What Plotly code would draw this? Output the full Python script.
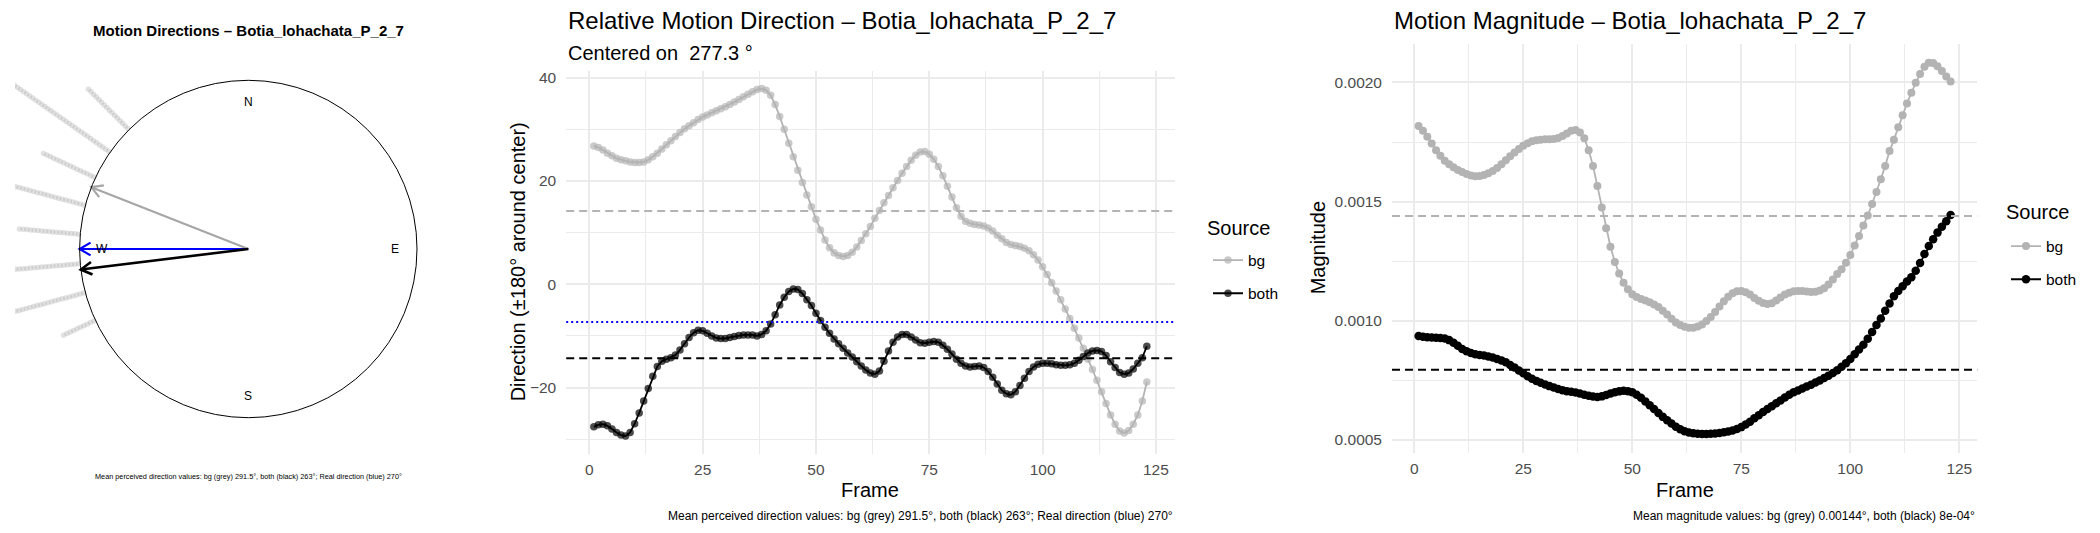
import numpy as np
import plotly.graph_objects as go

# canvas
W, H = 2100, 533

sample_name = "Botia_lohachata_P_2_7"
frames = list(range(1, 124))

# relative direction (deg around the centre)
bg_rel = [
    26.8, 26.5, 26.0, 25.4, 24.9, 24.4, 24.1, 23.9, 23.7, 23.6,
    23.6, 23.7, 24.1, 24.7, 25.4, 26.2, 27.0, 27.8, 28.6, 29.4,
    30.1, 30.7, 31.3, 31.9, 32.4, 32.8, 33.2, 33.6, 34.0, 34.4,
    34.8, 35.3, 35.8, 36.3, 36.8, 37.3, 37.7, 37.9, 37.6, 36.6,
    34.8, 32.5, 30.0, 27.3, 24.7, 22.1, 19.7, 17.3, 15.0, 12.6,
    10.5, 8.6, 7.1, 6.1, 5.6, 5.4, 5.6, 6.2, 7.2, 8.5,
    9.8, 11.2, 12.8, 14.3, 15.8, 17.2, 18.7, 20.1, 21.5, 22.8,
    24.0, 25.0, 25.6, 25.7, 25.2, 24.2, 22.8, 21.0, 19.0, 16.9,
    14.8, 13.2, 12.2, 11.8, 11.6, 11.5, 11.3, 10.9, 10.3, 9.5,
    8.8, 8.1, 7.7, 7.5, 7.3, 7.0, 6.5, 5.7, 4.7, 3.4,
    1.9, 0.3, -1.3, -3.0, -4.8, -6.6, -8.5, -10.4, -12.4, -14.5,
    -16.5, -18.6, -20.8, -23.1, -25.3, -27.1, -28.4, -28.8, -28.3, -27.1,
    -25.3, -22.6, -18.9,
]
both_rel = [
    -27.6, -27.2, -27.1, -27.4, -28.0, -28.7, -29.2, -29.4, -28.7, -27.0,
    -24.9, -22.6, -20.2, -17.8, -15.9, -14.9, -14.5, -14.2, -13.7, -12.7,
    -11.5, -10.3, -9.4, -8.9, -9.0, -9.5, -10.0, -10.4, -10.5, -10.5,
    -10.3, -10.1, -9.9, -9.8, -9.8, -9.8, -10.0, -9.7, -9.0, -7.7,
    -5.9, -4.0, -2.5, -1.4, -0.9, -1.0, -1.8, -3.0, -4.1, -5.6,
    -7.0, -8.3, -9.5, -10.6, -11.5, -12.4, -13.3, -14.1, -15.0, -15.8,
    -16.6, -17.2, -17.4, -16.8, -14.9, -12.9, -11.2, -10.2, -9.7, -9.7,
    -10.2, -10.8, -11.3, -11.4, -11.2, -11.1, -11.2, -11.8, -12.6, -13.5,
    -14.5, -15.3, -15.8, -16.0, -15.9, -15.8, -16.1, -16.9, -18.0, -19.3,
    -20.5, -21.2, -21.4, -20.8, -19.6, -18.2, -16.9, -16.0, -15.5, -15.3,
    -15.3, -15.4, -15.6, -15.7, -15.7, -15.6, -15.3, -14.7, -14.0, -13.3,
    -12.9, -12.8, -13.0, -13.8, -15.0, -16.1, -17.1, -17.4, -17.2, -16.4,
    -15.3, -14.2, -12.0,
]

# motion magnitude, right panel
bg_mag = [
    0.001817, 0.001797, 0.001772, 0.001744, 0.001716, 0.001692, 0.001672, 0.001657, 0.001644, 0.001633,
    0.001624, 0.001616, 0.001610, 0.001607, 0.001608, 0.001612, 0.001619, 0.001629, 0.001641, 0.001657,
    0.001674, 0.001690, 0.001706, 0.001721, 0.001734, 0.001745, 0.001753, 0.001758, 0.001760, 0.001762,
    0.001762, 0.001763, 0.001767, 0.001775, 0.001786, 0.001797, 0.001800, 0.001790, 0.001766, 0.001716,
    0.001650, 0.001566, 0.001475, 0.001388, 0.001311, 0.001247, 0.001198, 0.001160, 0.001132, 0.001111,
    0.001100, 0.001092, 0.001085, 0.001078, 0.001068, 0.001058, 0.001042, 0.001026, 0.001009, 0.000993,
    0.000982, 0.000975, 0.000971, 0.000971, 0.000976, 0.000985, 0.000999, 0.001016, 0.001037, 0.001060,
    0.001082, 0.001101, 0.001116, 0.001124, 0.001125, 0.001120, 0.001110, 0.001096, 0.001084, 0.001075,
    0.001071, 0.001074, 0.001085, 0.001098, 0.001110, 0.001118, 0.001124, 0.001125, 0.001125, 0.001123,
    0.001121, 0.001122, 0.001127, 0.001137, 0.001152, 0.001173, 0.001196, 0.001216, 0.001244, 0.001276,
    0.001316, 0.001356, 0.001400, 0.001442, 0.001490, 0.001540, 0.001594, 0.001650, 0.001712, 0.001760,
    0.001812, 0.001862, 0.001912, 0.001957, 0.001999, 0.002035, 0.002066, 0.002083, 0.002082, 0.002068,
    0.002048, 0.002025, 0.002004,
]
both_mag = [
    0.000936, 0.000933, 0.000931, 0.000930, 0.000929, 0.000928, 0.000926, 0.000919, 0.000908, 0.000895,
    0.000882, 0.000872, 0.000865, 0.000860, 0.000857, 0.000854, 0.000850, 0.000846, 0.000840, 0.000834,
    0.000826, 0.000815, 0.000804, 0.000792, 0.000780, 0.000767, 0.000757, 0.000748, 0.000740, 0.000733,
    0.000726, 0.000720, 0.000714, 0.000709, 0.000705, 0.000702, 0.000699, 0.000695, 0.000690, 0.000686,
    0.000682, 0.000680, 0.000683, 0.000689, 0.000695, 0.000700, 0.000704, 0.000707, 0.000705, 0.000700,
    0.000690, 0.000677, 0.000662, 0.000646, 0.000630, 0.000613, 0.000597, 0.000583, 0.000569, 0.000556,
    0.000545, 0.000537, 0.000531, 0.000528, 0.000526, 0.000525, 0.000525, 0.000526, 0.000527, 0.000529,
    0.000532, 0.000536, 0.000540, 0.000546, 0.000554, 0.000565, 0.000577, 0.000591, 0.000604, 0.000617,
    0.000630, 0.000642, 0.000654, 0.000666, 0.000678, 0.000690, 0.000700, 0.000708, 0.000716, 0.000724,
    0.000732, 0.000741, 0.000750, 0.000760, 0.000770, 0.000781, 0.000793, 0.000807, 0.000822, 0.000840,
    0.000860, 0.000880, 0.000900, 0.000925, 0.000953, 0.000982, 0.001010, 0.001042, 0.001073, 0.001103,
    0.001125, 0.001145, 0.001165, 0.001183, 0.001210, 0.001243, 0.001280, 0.001314, 0.001342, 0.001370,
    0.001395, 0.001418, 0.001444,
]

center_deg = 277.3
mean_bg_deg = 291.5
mean_both_deg = 263.0
real_deg = 270.0
mean_bg_mag = 0.00144
mean_both_mag = 0.000795

compass_labels = ["N", "E", "S", "W"]
compass_angles = [0, 90, 180, 270]

caption_dir = "Mean perceived direction values: bg (grey) 291.5°, both (black) 263°; Real direction (blue) 270°"
caption_mag = "Mean magnitude values: bg (grey) 0.00144°, both (black) 8e-04°"

FONT = "Liberation Sans, Arial, sans-serif"
GREY = "#B3B3B3"
GRID = "#EBEBEB"
TICK = "#4D4D4D"


def dom_x(a, b):
    return [a / W, b / W]


def dom_y(top, bottom):
    return [1 - bottom / H, 1 - top / H]


def gg_range(*series, mult=0.05):
    vals = np.concatenate([np.asarray(s, dtype=float) for s in series])
    lo, hi = vals.min(), vals.max()
    pad = (hi - lo) * mult
    return [lo - pad, hi + pad]


fig = go.Figure()

# ---------------- left: compass plot ----------------
cx, cy, rad = 248.3, 249.0, 168.7  # pixel centre / radius of the unit circle
lx0, lx1, ly0, ly1 = 15, 482, 64, 434

# stacked dots of every perceived direction, 10 degree bins
all_dirs = np.concatenate([np.array(bg_rel), np.array(both_rel)]) + center_deg
bin_centres = np.floor(all_dirs / 10) * 10 + 5
sep = 0.022
dot_x, dot_y = [], []
for b in np.unique(bin_centres):
    n = int((bin_centres == b).sum())
    r = 1.01 + sep * np.arange(n)
    th = np.radians(b)
    dot_x.extend(r * np.sin(th))
    dot_y.extend(r * np.cos(th))
fig.add_trace(go.Scatter(
    x=dot_x, y=dot_y, mode="markers", xaxis="x", yaxis="y",
    marker=dict(size=5.5, color="rgba(165,165,165,0.33)", line=dict(width=0)),
    showlegend=False, hoverinfo="skip",
))

for deg, col, lw in [(mean_bg_deg, "#A6A6A6", 2.2), (real_deg, "#0000FF", 2.2),
                     (mean_both_deg, "#000000", 2.6)]:
    th = np.radians(deg)
    tip = (np.sin(th), np.cos(th))
    arm = 0.075
    a1 = np.radians(deg + 180 - 30)
    a2 = np.radians(deg + 180 + 30)
    xs = [0, tip[0], None, tip[0] + arm * np.sin(a1), tip[0], tip[0] + arm * np.sin(a2)]
    ys = [0, tip[1], None, tip[1] + arm * np.cos(a1), tip[1], tip[1] + arm * np.cos(a2)]
    fig.add_trace(go.Scatter(
        x=xs, y=ys, mode="lines", xaxis="x", yaxis="y",
        line=dict(color=col, width=lw), showlegend=False, hoverinfo="skip",
    ))

fig.add_shape(type="circle", xref="x", yref="y", x0=-1, y0=-1, x1=1, y1=1,
              line=dict(color="black", width=1))

for lab, ang in zip(compass_labels, compass_angles):
    th = np.radians(ang)
    fig.add_annotation(x=0.87 * np.sin(th), y=0.87 * np.cos(th), xref="x", yref="y",
                       text=lab, showarrow=False, font=dict(size=12, color="black"))

# ---------------- middle: relative direction ----------------
fig.add_trace(go.Scatter(
    x=frames, y=bg_rel, mode="lines+markers", name="bg", xaxis="x2", yaxis="y2",
    line=dict(color=GREY, width=1.8),
    marker=dict(size=7.5, color="rgba(179,179,179,0.7)", line=dict(width=0)),
    legend="legend", legendgroup="bg1",
))
fig.add_trace(go.Scatter(
    x=frames, y=both_rel, mode="lines+markers", name="both", xaxis="x2", yaxis="y2",
    line=dict(color="black", width=1.8),
    marker=dict(size=7.5, color="rgba(0,0,0,0.7)", line=dict(width=0)),
    legend="legend", legendgroup="both1",
))
for val, col, dash in [(mean_bg_deg, GREY, "8px,5px"), (mean_both_deg, "black", "8px,5px"),
                       (real_deg, "#0000FF", "2px,3px")]:
    fig.add_shape(type="line", xref="x2 domain", yref="y2", x0=0, x1=1,
                  y0=val - center_deg, y1=val - center_deg,
                  line=dict(color=col, width=2, dash=dash))

# ---------------- right: magnitude ----------------
fig.add_trace(go.Scatter(
    x=frames, y=bg_mag, mode="lines+markers", name="bg", xaxis="x3", yaxis="y3",
    line=dict(color=GREY, width=1.8),
    marker=dict(size=8, color=GREY, line=dict(width=0)),
    legend="legend2", legendgroup="bg2",
))
fig.add_trace(go.Scatter(
    x=frames, y=both_mag, mode="lines+markers", name="both", xaxis="x3", yaxis="y3",
    line=dict(color="black", width=1.8),
    marker=dict(size=8.5, color="black", line=dict(width=0)),
    legend="legend2", legendgroup="both2",
))
for val, col in [(mean_bg_mag, GREY), (mean_both_mag, "black")]:
    fig.add_shape(type="line", xref="x3 domain", yref="y3", x0=0, x1=1, y0=val, y1=val,
                  line=dict(color=col, width=2, dash="8px,5px"))

# ---------------- axes ----------------
mid_l, mid_r, mid_t, mid_b = 566.2, 1174.5, 71.2, 453.5
rgt_l, rgt_r, rgt_t, rgt_b = 1392.0, 1977.2, 44.1, 452.6

frame_axis = dict(
    tickmode="linear", tick0=0, dtick=25, showgrid=True, gridcolor=GRID, gridwidth=2,
    minor=dict(tick0=0, dtick=12.5, showgrid=True, gridcolor=GRID, gridwidth=1.2),
    zeroline=False, showline=False, ticks="", ticklabelstandoff=5,
    tickfont=dict(size=15.5, color=TICK), range=gg_range(frames),
)

left_xr = [-(cx - lx0) / rad, (lx1 - cx) / rad]
left_yr = [-(ly1 - cy) / rad, (cy - ly0) / rad]

legend_style = dict(
    xanchor="left", yanchor="middle", font=dict(size=15.5),
    tracegroupgap=10, itemwidth=30, bgcolor="rgba(0,0,0,0)",
)

fig.update_layout(
    width=W, height=H, template="none",
    margin=dict(l=0, r=0, t=0, b=0),
    paper_bgcolor="white", plot_bgcolor="white",
    font=dict(family=FONT, color="black"),
    xaxis=dict(domain=dom_x(lx0, lx1), range=left_xr, visible=False, anchor="y"),
    yaxis=dict(domain=dom_y(ly0, ly1), range=left_yr, visible=False, anchor="x"),
    xaxis2=dict(frame_axis, domain=dom_x(mid_l, mid_r), anchor="y2"),
    yaxis2=dict(
        domain=dom_y(mid_t, mid_b), anchor="x2", range=gg_range(bg_rel, both_rel),
        tickmode="linear", tick0=0, dtick=20, showgrid=True, gridcolor=GRID, gridwidth=2,
        minor=dict(tick0=0, dtick=10, showgrid=True, gridcolor=GRID, gridwidth=1.2),
        zeroline=False, showline=False, ticks="", ticklabelstandoff=9,
        tickfont=dict(size=15.5, color=TICK),
    ),
    xaxis3=dict(frame_axis, domain=dom_x(rgt_l, rgt_r), anchor="y3"),
    yaxis3=dict(
        domain=dom_y(rgt_t, rgt_b), anchor="x3", range=gg_range(bg_mag, both_mag),
        tickmode="linear", tick0=0, dtick=0.0005, tickformat=".4f",
        showgrid=True, gridcolor=GRID, gridwidth=2,
        minor=dict(tick0=0, dtick=0.00025, showgrid=True, gridcolor=GRID, gridwidth=1.2),
        zeroline=False, showline=False, ticks="", ticklabelstandoff=9,
        tickfont=dict(size=15.5, color=TICK),
    ),
    legend=dict(legend_style, x=1208 / W, y=1 - 277 / H),
    legend2=dict(legend_style, x=2006 / W, y=1 - 263 / H),
)


def note(text, x, y, size, xanchor="center", angle=0, color="black"):
    fig.add_annotation(text=text, x=x / W, y=1 - y / H, xref="paper", yref="paper",
                       xanchor=xanchor, yanchor="middle", showarrow=False, textangle=angle,
                       font=dict(size=size, color=color))


# titles, axis titles, captions, legend titles
note(f"<b>Motion Directions – {sample_name}</b>", 248.7, 30.7, 15)
note(caption_dir, 248.5, 476, 7.3)

note(f"Relative Motion Direction – {sample_name}", mid_l, 20.7, 24, xanchor="left")
note(f"Centered on \u00a0{center_deg} °", mid_l, 53, 20, xanchor="left")
note("Frame", (mid_l + mid_r) / 2, 490, 20)
note("Direction (±180° around center)", 518, (mid_t + mid_b) / 2, 20, angle=-90)
note(caption_dir, mid_r, 516, 12, xanchor="right")
note("Source", 1205, 227.7, 20, xanchor="left")

note(f"Motion Magnitude – {sample_name}", rgt_l, 20.3, 24, xanchor="left")
note("Frame", (rgt_l + rgt_r) / 2, 490, 20)
note("Magnitude", 1318, (rgt_t + rgt_b) / 2, 20, angle=-90)
note(caption_mag, rgt_r, 516, 12, xanchor="right")
note("Source", 2004, 211.6, 20, xanchor="left")

# the page's default 8px body margin would shift the whole figure
fig.write_html("out.html", config={"displayModeBar": False},
               post_script="document.body.style.margin='0';")
